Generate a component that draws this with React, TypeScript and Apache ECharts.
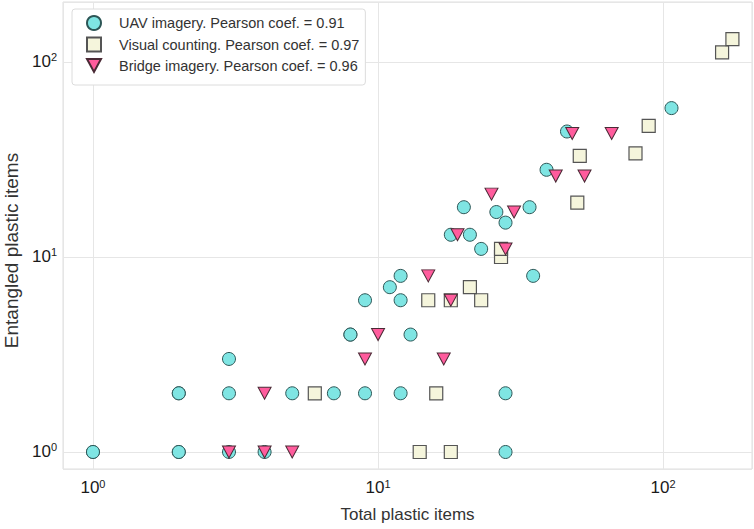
import React, { useEffect, useRef } from 'react';
import * as echarts from 'echarts';

// [total plastic items, entangled plastic items]
const uavPoints: number[][] = [
  [1, 1], [1, 1], [2, 1], [2, 1], [3, 1], [4, 1], [28, 1],
  [2, 2], [2, 2], [3, 2], [5, 2], [7, 2], [9, 2], [12, 2], [28, 2],
  [3, 3], [8, 4], [8, 4], [13, 4], [9, 6], [12, 6], [11, 7], [12, 8], [35, 8],
  [23, 11], [18, 13], [21, 13], [28, 15], [26, 17], [20, 18], [34, 18],
  [39, 28], [46, 44], [107, 58],
];
const visualPoints: number[][] = [
  [14, 1], [18, 1], [6, 2], [16, 2], [15, 6], [18, 6], [23, 6], [21, 7],
  [27, 10], [27, 11], [50, 19], [51, 33], [80, 34], [89, 47], [161, 112], [175, 131],
];
const bridgePoints: number[][] = [
  [3, 1], [4, 1], [5, 1], [4, 2], [9, 3], [17, 3], [10, 4], [18, 6], [15, 8],
  [28, 11], [19, 13], [30, 17], [25, 21], [42, 26], [53, 26], [48, 43], [66, 43],
];
const seriesNames = [
  'UAV imagery. Pearson coef. = 0.91',
  'Visual counting. Pearson coef. = 0.97',
  'Bridge imagery. Pearson coef. = 0.96',
];
const xAxisName = 'Total plastic items';
const yAxisName = 'Entangled plastic items';
const xExtent = [0.785, 205];
const yExtent = [0.818, 203];

const FONT = '"Liberation Sans", Arial, sans-serif';
const DOWN_TRIANGLE = 'path://M0,0L12,0L6,11Z';

const powLabel = (v: number) => {
  const l = Math.log10(v);
  const e = Math.round(l);
  if (Math.abs(l - e) > 1e-6) return '';
  return `{b|10}{s|${e}}`;
};

const rich = {
  b: { fontSize: 17, lineHeight: 18, verticalAlign: 'bottom', color: '#1a1a1a', fontFamily: FONT },
  s: { fontSize: 11, lineHeight: 11, verticalAlign: 'top', padding: [0, 0, 12, 0], color: '#1a1a1a', fontFamily: FONT },
};

export default function App() {
  const ref = useRef<HTMLDivElement>(null);
  useEffect(() => {
    if (!ref.current) return;
    const chart = echarts.init(ref.current, null, { renderer: 'svg' });
    const gridLine = { show: true, lineStyle: { color: '#e6e6e6', width: 1 } };
    chart.setOption({
      animation: false,
      backgroundColor: '#fff',
      grid: {
        left: 63, right: 2, top: 2, bottom: 60,
        show: true, borderColor: '#dedede', borderWidth: 1,
        outerBoundsMode: 'none',
      },
      legend: {
        orient: 'vertical',
        left: 72,
        top: 9,
        padding: [6, 6, 12, 14],
        itemWidth: 14,
        itemHeight: 14,
        itemGap: 5.5,
        backgroundColor: '#fff',
        borderColor: '#dcdcdc',
        borderWidth: 1,
        borderRadius: 3,
        textStyle: { fontSize: 14.5, color: '#333', fontFamily: FONT, padding: [0, 0, 0, 13] },
        data: [
          { name: seriesNames[0], icon: 'circle' },
          { name: seriesNames[1], icon: 'rect' },
          { name: seriesNames[2], icon: DOWN_TRIANGLE },
        ],
      },
      xAxis: {
        type: 'log',
        logBase: 10,
        min: xExtent[0],
        max: xExtent[1],
        splitNumber: 3,
        name: xAxisName,
        nameLocation: 'middle',
        nameGap: 36,
        nameTextStyle: { fontSize: 17, color: '#333', fontFamily: FONT },
        axisLine: { show: false },
        axisTick: { show: false },
        splitLine: gridLine,
        axisLabel: { formatter: powLabel, rich, margin: 9, showMinLabel: false, showMaxLabel: false },
      },
      yAxis: {
        type: 'log',
        logBase: 10,
        min: yExtent[0],
        max: yExtent[1],
        splitNumber: 3,
        name: yAxisName,
        nameLocation: 'middle',
        nameRotate: 90,
        nameGap: 38,
        nameTextStyle: { fontSize: 19, color: '#333', fontFamily: FONT, padding: [0, 30, 0, 0] },
        axisLine: { show: false },
        axisTick: { show: false },
        splitLine: gridLine,
        axisLabel: { formatter: powLabel, rich, margin: 6, padding: [0, 0, 2, 0], showMinLabel: false, showMaxLabel: false },
      },
      series: [
        {
          name: seriesNames[0],
          type: 'scatter',
          data: uavPoints,
          symbol: 'circle',
          symbolSize: 13,
          itemStyle: { color: '#7fe5e3', borderColor: '#2d5656', borderWidth: 1, opacity: 1 },
        },
        {
          name: seriesNames[1],
          type: 'scatter',
          data: visualPoints,
          symbol: 'rect',
          symbolSize: 13,
          itemStyle: { color: '#f5f5dc', borderColor: '#555555', borderWidth: 1.2, opacity: 1 },
        },
        {
          name: seriesNames[2],
          type: 'scatter',
          data: bridgePoints,
          symbol: 'triangle',
          symbolRotate: 180,
          symbolSize: [13, 12],
          itemStyle: { color: '#ff5c9d', borderColor: '#4a2a35', borderWidth: 1, opacity: 1 },
        },
      ],
    });
    return () => chart.dispose();
  }, []);
  return (
    <div
      ref={ref}
      style={{ position: 'fixed', left: 0, top: 0, width: 754, height: 529, background: '#fff' }}
    />
  );
}
